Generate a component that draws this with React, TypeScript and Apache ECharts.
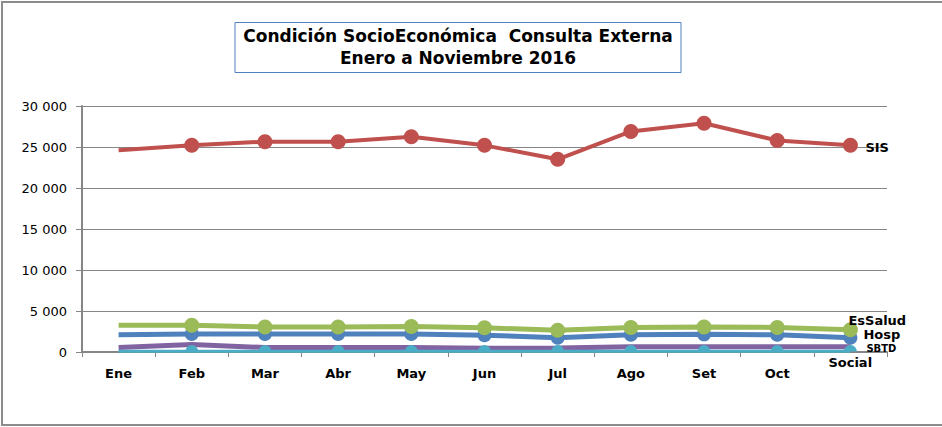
import React, { useEffect, useRef } from "react";
import * as echarts from "echarts";

const months = ["Ene", "Feb", "Mar", "Abr", "May", "Jun", "Jul", "Ago", "Set", "Oct", "Nov"];
const sis = [24600, 25200, 25650, 25650, 26250, 25200, 23500, 26900, 27900, 25800, 25200];
const esSalud = [3250, 3250, 3050, 3050, 3100, 2950, 2650, 3000, 3050, 3000, 2700];
const hosp = [2100, 2200, 2200, 2200, 2200, 2050, 1750, 2100, 2150, 2100, 1750];
const sbtd = [550, 900, 550, 550, 550, 450, 500, 650, 650, 650, 650];
const social = [80, 80, 80, 80, 80, 80, 80, 80, 80, 80, 80];
const yTicks = [0, 5000, 10000, 15000, 20000, 25000, 30000];
const titleLines = ["Condición SocioEconómica  Consulta Externa", "Enero a Noviembre 2016"];

const FONT = "DejaVu Sans";

function buildData(values: number[], name: string, opts: any) {
  return values.map((v, i) => {
    const item: any = { value: v };
    if (i === 0) item.symbol = "none";
    if (i === values.length - 1) {
      item.label = {
        show: true,
        position: "inside",
        align: "left",
        verticalAlign: "middle",
        offset: opts.offset,
        formatter: name,
        color: "#000",
        fontFamily: FONT,
        fontWeight: "bold",
        fontSize: opts.fontSize || 13,
      };
    }
    return item;
  });
}

export default function App() {
  const ref = useRef<HTMLDivElement>(null);
  useEffect(() => {
    document.body.style.margin = "0";
    const chart = echarts.init(ref.current!, null, { renderer: "svg" });
    const semi = "path://M0,10 A10,10 0 0 1 20,10 Z";
    chart.setOption({
      animation: false,
      backgroundColor: "#fff",
      grid: { left: 82, right: 55, top: 106, bottom: 75, containLabel: false },
      xAxis: {
        type: "category",
        data: months,
        boundaryGap: true,
        axisLine: { lineStyle: { color: "#868686", width: 2 } },
        axisTick: { show: true, length: 5, lineStyle: { color: "#868686", width: 1 } },
        axisLabel: {
          margin: 15,
          color: "#000",
          fontFamily: FONT,
          fontWeight: "bold",
          fontSize: 13,
          formatter: (v: string, i: number) => (i === months.length - 1 ? "" : v),
        },
        splitLine: { show: false },
      },
      yAxis: {
        type: "value",
        min: yTicks[0],
        max: yTicks[yTicks.length - 1],
        interval: 5000,
        axisLine: { show: true, lineStyle: { color: "#868686", width: 2 } },
        axisTick: { show: true, length: 6, lineStyle: { color: "#868686", width: 1 } },
        axisLabel: {
          margin: 15,
          color: "#000",
          fontFamily: FONT,
          fontSize: 13,
          formatter: (v: number) => String(v).replace(/\B(?=(\d{3})+(?!\d))/g, " "),
        },
        splitLine: { lineStyle: { color: "#868686", width: 1 } },
      },
      series: [
        {
          name: "Hosp",
          type: "line",
          z: 2,
          data: buildData(hosp, "Hosp", { offset: [13, -3] }),
          symbol: "circle",
          symbolSize: 14,
          lineStyle: { color: "#4F81BD", width: 5 },
          itemStyle: { color: "#4F81BD" },
        },
        {
          name: "SIS",
          type: "line",
          z: 3,
          data: buildData(sis, "SIS", { offset: [15, 2] }),
          symbol: "circle",
          symbolSize: 15,
          lineStyle: { color: "#C0504D", width: 4 },
          itemStyle: { color: "#C0504D" },
        },
        {
          name: "EsSalud",
          type: "line",
          z: 4,
          data: buildData(esSalud, "EsSalud", { offset: [-2, -9] }),
          symbol: "circle",
          symbolSize: 15,
          lineStyle: { color: "#9BBB59", width: 5 },
          itemStyle: { color: "#9BBB59" },
        },
        {
          name: "SBTD",
          type: "line",
          z: 5,
          data: buildData(sbtd, "SBTD", { offset: [16, 2], fontSize: 10 }),
          symbol: "circle",
          symbolSize: 2,
          lineStyle: { color: "#8064A2", width: 5 },
          itemStyle: { color: "#8064A2" },
        },
        {
          name: "Social",
          type: "line",
          z: 6,
          data: buildData(social, "Social", { offset: [-22, 14] }),
          symbol: semi,
          symbolSize: [13, 6.5],
          symbolOffset: [0, -3],
          lineStyle: { color: "#4BACC6", width: 3 },
          itemStyle: { color: "#4BACC6" },
        },
      ],
      graphic: [
        {
          type: "rect",
          shape: { x: 2, y: 2, width: 950, height: 423 },
          style: { fill: "none", stroke: "#8c8c8c", lineWidth: 2 },
          silent: true,
          z: 0,
        },
        {
          type: "rect",
          shape: { x: 235, y: 22.5, width: 446, height: 50 },
          style: { fill: "#fff", stroke: "#4F81BD", lineWidth: 1 },
          silent: true,
          z: 10,
        },
        {
          type: "text",
          x: 458,
          y: 36,
          style: {
            text: titleLines[0],
            fill: "#000",
            font: "bold 17px 'DejaVu Sans', sans-serif",
            align: "center",
            verticalAlign: "middle",
          },
          z: 11,
        },
        {
          type: "text",
          x: 458,
          y: 58,
          style: {
            text: titleLines[1],
            fill: "#000",
            font: "bold 17px 'DejaVu Sans', sans-serif",
            align: "center",
            verticalAlign: "middle",
          },
          z: 11,
        },
      ],
    });
    return () => chart.dispose();
  }, []);
  return <div ref={ref} style={{ width: 942, height: 427 }} />;
}
